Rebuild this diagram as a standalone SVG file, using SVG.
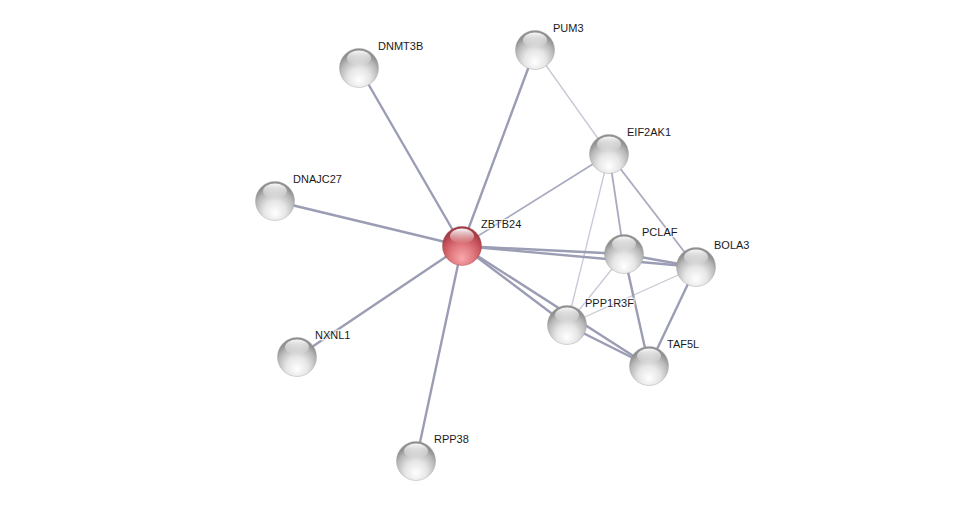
<svg xmlns="http://www.w3.org/2000/svg" width="975" height="507" viewBox="0 0 975 507">
<style>
.e{stroke:#9a9db4;stroke-width:2.4;fill:none;stroke-linecap:round}
.m{stroke:#a9abc0;stroke-width:1.8;fill:none}
.l{stroke:#c6c8d6;stroke-width:1.3;fill:none}
.t{font-family:"Liberation Sans",Arial,sans-serif;font-size:11px;fill:#1a1a1a;stroke:#ffffff;stroke-width:2.5;stroke-opacity:0.7;paint-order:stroke}
</style>
<defs>
<radialGradient id="gg" cx="50%" cy="72%" r="62%" fx="50%" fy="82%">
<stop offset="0" stop-color="#ffffff"/>
<stop offset="0.45" stop-color="#e6e6e6"/>
<stop offset="0.8" stop-color="#b8b8b8"/>
<stop offset="1" stop-color="#909090"/>
</radialGradient>
<radialGradient id="rg" cx="50%" cy="72%" r="62%" fx="50%" fy="82%">
<stop offset="0" stop-color="#f8a8ac"/>
<stop offset="0.45" stop-color="#e27c82"/>
<stop offset="0.8" stop-color="#c6525b"/>
<stop offset="1" stop-color="#a23c46"/>
</radialGradient>
<linearGradient id="hl" x1="0" y1="0" x2="0" y2="1">
<stop offset="0" stop-color="#ffffff" stop-opacity="0.95"/>
<stop offset="1" stop-color="#ffffff" stop-opacity="0"/>
</linearGradient>
<g id="ball">
<circle r="19.5" fill="url(#gg)" stroke="#9a9a9a" stroke-width="0.4"/>
<ellipse cx="0" cy="-10" rx="12" ry="7.5" fill="url(#hl)"/>
</g>
<g id="rball">
<circle r="19.5" fill="url(#rg)" stroke="#9a3a44" stroke-width="0.4"/>
<ellipse cx="0" cy="-10" rx="12" ry="7.5" fill="url(#hl)"/>
</g>
</defs>
<rect width="975" height="507" fill="#ffffff"/>
<g id="connectors">
<line class="l" x1="535" y1="50" x2="609" y2="154"/>
<line class="l" x1="609" y1="154" x2="567" y2="325"/>
<line class="l" x1="624" y1="254" x2="567" y2="325"/>
<line class="l" x1="696" y1="267" x2="567" y2="325"/>
<line class="m" x1="609" y1="154" x2="696" y2="267"/>
<line class="m" x1="609" y1="154" x2="624" y2="254"/>
<line class="m" x1="462" y1="246" x2="609" y2="154"/>
<line class="e" x1="462" y1="246" x2="359" y2="68"/>
<line class="e" x1="462" y1="246" x2="535" y2="50"/>
<line class="e" x1="462" y1="246" x2="275" y2="201"/>
<line class="e" x1="462" y1="246" x2="297" y2="357"/>
<line class="e" x1="462" y1="246" x2="416" y2="461"/>
<line class="e" x1="462" y1="246" x2="624" y2="254"/>
<line class="e" x1="462" y1="246" x2="696" y2="267"/>
<line class="e" x1="462" y1="246" x2="567" y2="325"/>
<line class="e" x1="462" y1="246" x2="649" y2="366"/>
<line class="e" x1="624" y1="254" x2="696" y2="267"/>
<line class="e" x1="624" y1="254" x2="649" y2="366"/>
<line class="e" x1="696" y1="267" x2="649" y2="366"/>
<line class="e" x1="567" y1="325" x2="649" y2="366"/>
</g>
<g id="DNMT3B"><use href="#ball" x="359" y="68"/><text class="t" x="378" y="50">DNMT3B</text></g>
<g id="PUM3"><use href="#ball" x="535" y="50"/><text class="t" x="553" y="32">PUM3</text></g>
<g id="EIF2AK1"><use href="#ball" x="609" y="154"/><text class="t" x="627" y="136">EIF2AK1</text></g>
<g id="DNAJC27"><use href="#ball" x="275" y="201"/><text class="t" x="293" y="183">DNAJC27</text></g>
<g id="ZBTB24"><use href="#rball" x="462" y="246"/><text class="t" x="481" y="228">ZBTB24</text></g>
<g id="PCLAF"><use href="#ball" x="624" y="254"/><text class="t" x="642" y="236">PCLAF</text></g>
<g id="BOLA3"><use href="#ball" x="696" y="267"/><text class="t" x="714" y="249">BOLA3</text></g>
<g id="PPP1R3F"><use href="#ball" x="567" y="325"/><text class="t" x="585" y="307">PPP1R3F</text></g>
<g id="TAF5L"><use href="#ball" x="649" y="366"/><text class="t" x="667" y="348">TAF5L</text></g>
<g id="NXNL1"><use href="#ball" x="297" y="357"/><text class="t" x="315" y="339">NXNL1</text></g>
<g id="RPP38"><use href="#ball" x="416" y="461"/><text class="t" x="434" y="443">RPP38</text></g>
</svg>
